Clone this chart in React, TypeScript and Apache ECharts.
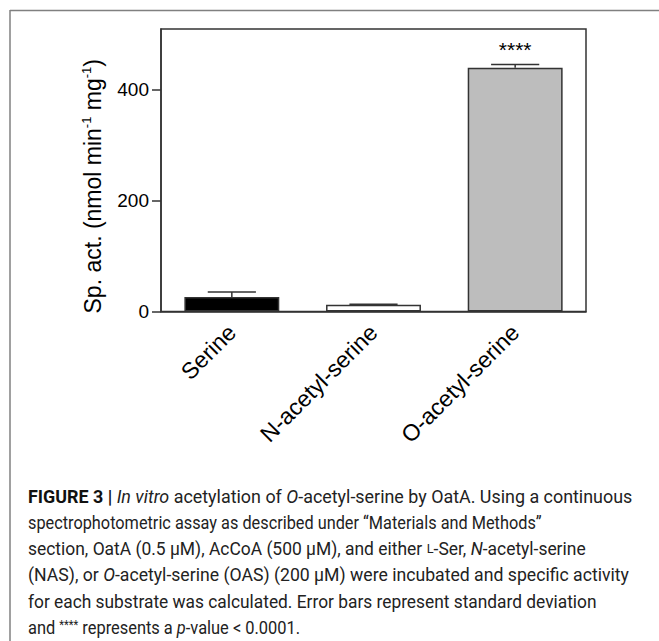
import React, { useEffect, useRef } from "react";
import * as echarts from "echarts";

const categories = ["Serine", "N-acetyl-serine", "O-acetyl-serine"];
const values = [26, 12, 440];
const errors = [9, 1, 6];
const significance = ["", "", "****"];
const yTicks = [0, 200, 400];
const barColors = ["#000000", "#ffffff", "#bdbdbd"];

const captionLines = [
  "{b|FIGURE 3 |} {i|In vitro} acetylation of {i|O}-acetyl-serine by OatA. Using a continuous",
  "spectrophotometric assay as described under \u201cMaterials and Methods\u201d",
  "section, OatA (0.5 \u03bcM), AcCoA (500 \u03bcM), and either {sc|L}-Ser, {i|N}-acetyl-serine",
  "(NAS), or {i|O}-acetyl-serine (OAS) (200 \u03bcM) were incubated and specific activity",
  "for each substrate was calculated. Error bars represent standard deviation",
  "and {sup|****} represents a {i|p}-value < 0.0001.",
];
// right edge (px) of each caption line in the reference layout
const captionRightEdges = [632, 542, 586, 629, 597, 300];

const CAP_FONT = "Roboto";
const CAP_SIZE = 17.9;
const capRich: any = {
  b: { fontWeight: "bold", fontFamily: CAP_FONT, fontSize: CAP_SIZE, fill: "#111" },
  i: { fontStyle: "italic", fontFamily: CAP_FONT, fontSize: CAP_SIZE, fill: "#222" },
  sc: { fontFamily: CAP_FONT, fontSize: 13, fill: "#222" },
  sup: { fontFamily: CAP_FONT, fontSize: 12, fill: "#222", verticalAlign: "top" },
};

function measureRich(line: string): number {
  const canvas = document.createElement("canvas");
  const ctx = canvas.getContext("2d");
  if (!ctx) return 0;
  let total = 0;
  const parts = line.split(/(\{[a-z]+\|[^}]*\})/);
  for (const p of parts) {
    if (!p) continue;
    const m = p.match(/^\{([a-z]+)\|([^}]*)\}$/);
    let text = p;
    let st: any = { fontFamily: CAP_FONT, fontSize: CAP_SIZE };
    if (m) {
      st = capRich[m[1]];
      text = m[2];
    }
    ctx.font = `${st.fontStyle || "normal"} ${st.fontWeight || "normal"} ${st.fontSize}px ${st.fontFamily}`;
    total += ctx.measureText(text).width;
  }
  return total;
}

export default function App() {
  const ref = useRef<HTMLDivElement>(null);
  useEffect(() => {
    if (!ref.current) return;
    const chart = echarts.init(ref.current, null, { renderer: "svg" });
    const capLeft = 28;
    const graphics: any[] = [
      {
        type: "line",
        shape: { x1: 10, y1: 10.5, x2: 659, y2: 10.5 },
        style: { stroke: "#808080", lineWidth: 1.5 },
      },
      {
        type: "line",
        shape: { x1: 10, y1: 10, x2: 10, y2: 641 },
        style: { stroke: "#808080", lineWidth: 1.5 },
      },
    ];
    captionLines.forEach((line, i) => {
      const w = measureRich(line);
      const target = captionRightEdges[i] - capLeft;
      const sx = w > 0 ? Math.min(1.05, Math.max(0.85, target / w)) : 1;
      graphics.push({
        type: "text",
        x: capLeft,
        y: 487 + i * 26.4,
        scaleX: sx,
        style: {
          text: line,
          fontFamily: CAP_FONT,
          fontSize: CAP_SIZE,
          fill: "#222",
          verticalAlign: "top",
          rich: capRich,
        },
      });
    });

    const option: any = {
      animation: false,
      textStyle: { fontFamily: "Liberation Sans" },
      grid: {
        left: 161,
        right: 73,
        top: 29,
        bottom: 329.5,
        show: true,
        borderColor: "#333",
        borderWidth: 1.5,
      },
      xAxis: {
        type: "category",
        data: categories,
        axisLine: { lineStyle: { color: "#333", width: 1.5 } },
        axisTick: { alignWithLabel: true, length: 8, lineStyle: { color: "#333", width: 1.5 } },
        axisLabel: {
          rotate: 45,
          fontSize: 23,
          color: "#000",
          margin: 17,
          fontFamily: "Liberation Sans",
        },
      },
      yAxis: {
        type: "value",
        min: 0,
        max: 510,
        interval: 200,
        name: "Sp. act. (nmol min{sup|-1} mg{sup|-1})",
        nameLocation: "middle",
        nameGap: 52,
        nameTextStyle: {
          fontSize: 23,
          color: "#000",
          fontFamily: "Liberation Sans",
          lineHeight: 26,
          padding: [0, 32, 0, 0],
          rich: {
            sup: { fontSize: 13, color: "#000", fontFamily: "Liberation Sans", verticalAlign: "top", lineHeight: 26 },
          },
        },
        axisLine: { show: true, lineStyle: { color: "#333", width: 1.5 } },
        axisTick: { show: true, length: 9, customValues: yTicks, lineStyle: { color: "#333", width: 1.5 } },
        axisLabel: {
          fontSize: 19,
          color: "#000",
          margin: 12,
          customValues: yTicks,
          fontFamily: "Liberation Sans",
        },
        splitLine: { show: false },
      },
      series: [
        {
          type: "bar",
          barWidth: "67%",
          data: values.map((v, i) => ({
            value: v,
            itemStyle: { color: barColors[i], borderColor: "#333", borderWidth: 1.5 },
          })),
          z: 2,
        },
        {
          type: "custom",
          z: 3,
          data: values.map((v, i) => [i, v, errors[i]]),
          renderItem: (params: any, api: any) => {
            const idx = api.value(0);
            const v = api.value(1);
            const e = api.value(2);
            const base = api.coord([idx, v]);
            const top = api.coord([idx, v + e]);
            const half = api.size([1, 0])[0] * 0.17;
            const children: any[] = [
              {
                type: "line",
                shape: { x1: base[0], y1: base[1], x2: top[0], y2: top[1] },
                style: { stroke: "#333", lineWidth: 1.5 },
              },
              {
                type: "line",
                shape: { x1: top[0] - half, y1: top[1], x2: top[0] + half, y2: top[1] },
                style: { stroke: "#333", lineWidth: 1.5 },
              },
            ];
            const sig = significance[params.dataIndex];
            if (sig) {
              children.push({
                type: "text",
                x: top[0],
                y: top[1] - 4,
                style: {
                  text: sig,
                  fontSize: 21,
                  fontFamily: "Liberation Sans",
                  fill: "#000",
                  align: "center",
                  verticalAlign: "bottom",
                },
              });
            }
            return { type: "group", children };
          },
        },
      ],
      graphic: graphics,
    };
    chart.setOption(option);
    return () => chart.dispose();
  }, []);
  return (
    <div
      ref={ref}
      style={{ position: "absolute", left: 0, top: 0, width: 659, height: 641, background: "#fff" }}
    />
  );
}
